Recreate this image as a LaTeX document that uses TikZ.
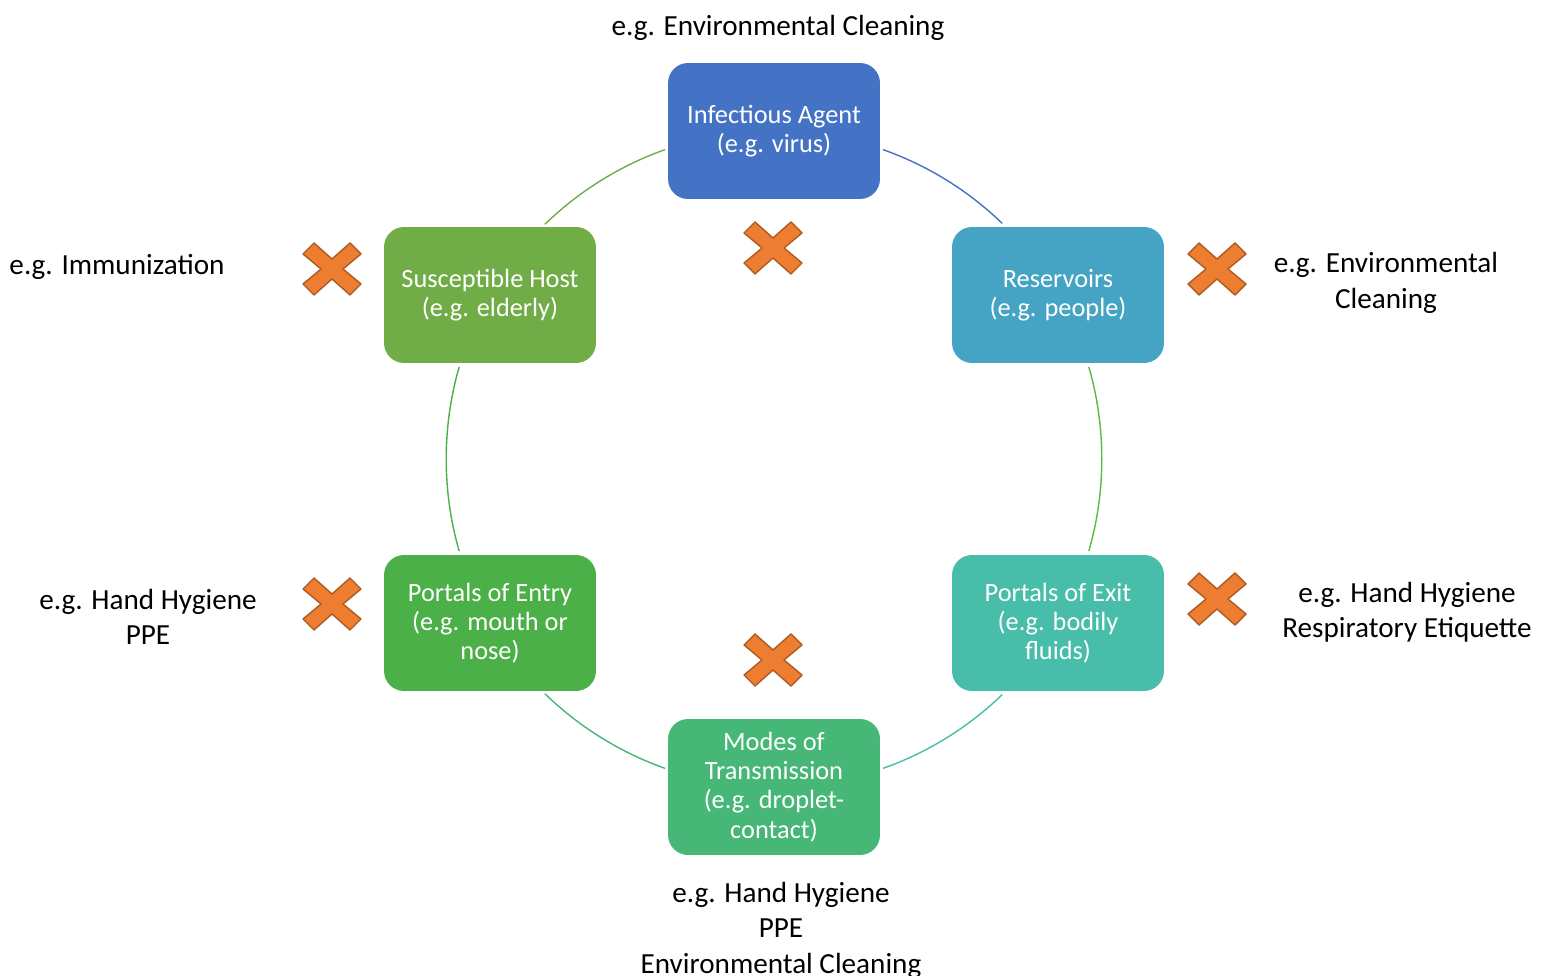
\documentclass[tikz,border=0pt]{standalone}
\usepackage{fontspec}
\setmainfont{Carlito}
\usepackage{xcolor}

\definecolor{agentblue}{HTML}{4472C4}
\definecolor{reservoirblue}{HTML}{45A3C3}
\definecolor{exitteal}{HTML}{47BDAA}
\definecolor{modesgreen}{HTML}{46B776}
\definecolor{entrygreen}{HTML}{4AB047}
\definecolor{hostgreen}{HTML}{70AD47}
\definecolor{crossorange}{HTML}{ED7D31}
\definecolor{crossedge}{HTML}{AE5A21}

\tikzset{
  stage/.style={rounded corners=0.4cm, minimum width=4.24cm, minimum height=2.72cm,
    text=white, align=center, font=\fontsize{15}{16.6}\selectfont},
  note/.style={align=center, font=\fontsize{16.6}{20.2}\selectfont},
  ring/.style={line width=0.8pt, looseness=0.86},
  stopcross/.pic={
    \draw[fill=crossorange, draw=crossedge, line width=0.8pt, line join=round]
      (-18,26) -- (0,10) -- (18,26) -- (29,15) -- (11,0) -- (29,-15) -- (18,-26)
      -- (0,-10) -- (-18,-26) -- (-29,-15) -- (-11,0) -- (-29,15) -- cycle;
  }
}

\begin{document}
\begin{tikzpicture}[x=0.02cm, y=0.02cm]
    \useasboundingbox (0,0) rectangle (1546,-976);

    \node[stage, fill=agentblue] (agent) at (774,-131) {Infectious Agent\\(e.g. virus)};
    \node[stage, fill=reservoirblue] (reservoir) at (1058,-295) {Reservoirs\\(e.g. people)};
    \node[stage, fill=exitteal] (exit) at (1058,-623) {Portals of Exit\\(e.g. bodily\\fluids)};
    \node[stage, fill=modesgreen] (modes) at (774,-787) {Modes of\\Transmission\\(e.g. droplet-\\contact)};
    \node[stage, fill=entrygreen] (entry) at (490,-623) {Portals of Entry\\(e.g. mouth or\\nose)};
    \node[stage, fill=hostgreen] (host) at (490,-295) {Susceptible Host\\(e.g. elderly)};

    % ring round the chain
    \coordinate (ctr) at (774,-459);
    \coordinate (r1s) at ([shift={(70.6:328)}]ctr);
    \coordinate (r1e) at ([shift={(45.9:328)}]ctr);
    \coordinate (r2s) at ([shift={(16.3:328)}]ctr);
    \coordinate (r2e) at ([shift={(-16.3:328)}]ctr);
    \coordinate (r3s) at ([shift={(-45.9:328)}]ctr);
    \coordinate (r3e) at ([shift={(-70.6:328)}]ctr);
    \coordinate (r4s) at ([shift={(-109.4:328)}]ctr);
    \coordinate (r4e) at ([shift={(-134.3:328)}]ctr);
    \coordinate (r5s) at ([shift={(-163.7:328)}]ctr);
    \coordinate (r5e) at ([shift={(163.7:328)}]ctr);
    \coordinate (r6s) at ([shift={(134.3:328)}]ctr);
    \coordinate (r6e) at ([shift={(109.4:328)}]ctr);

    \draw[ring, agentblue] (r1s) to[bend left=12.35] (r1e);
    \draw[ring, hostgreen!85!green] (r2s) to[bend left=16.3] (r2e);
    \draw[ring, exitteal] (r3s) to[bend left=12.35] (r3e);
    \draw[ring, modesgreen] (r4s) to[bend left=12.35] (r4e);
    \draw[ring, entrygreen] (r5s) to[bend left=16.3] (r5e);
    \draw[ring, hostgreen] (r6s) to[bend left=12.35] (r6e);

    % break points
    \pic at (773,-248) {stopcross};
    \pic at (332,-269) {stopcross};
    \pic at (1217,-269) {stopcross};
    \pic at (332,-604) {stopcross};
    \pic at (1217,-599) {stopcross};
    \pic at (773,-660) {stopcross};

    \node[note] (topnote) at (778,-28) {e.g. Environmental Cleaning};
    \node[note] (immunization) at (117,-267) {e.g. Immunization};
    \node[note] (rightnote) at (1386,-283) {e.g. Environmental\\Cleaning};
    \node[note] (leftnote) at (148,-617) {e.g. Hand Hygiene\\PPE};
    \node[note] (etiquette) at (1407,-612) {e.g. Hand Hygiene\\Respiratory Etiquette};
    \node[note] (bottomnote) at (781,-930) {e.g. Hand Hygiene\\PPE\\Environmental Cleaning};
\end{tikzpicture}
\end{document}
